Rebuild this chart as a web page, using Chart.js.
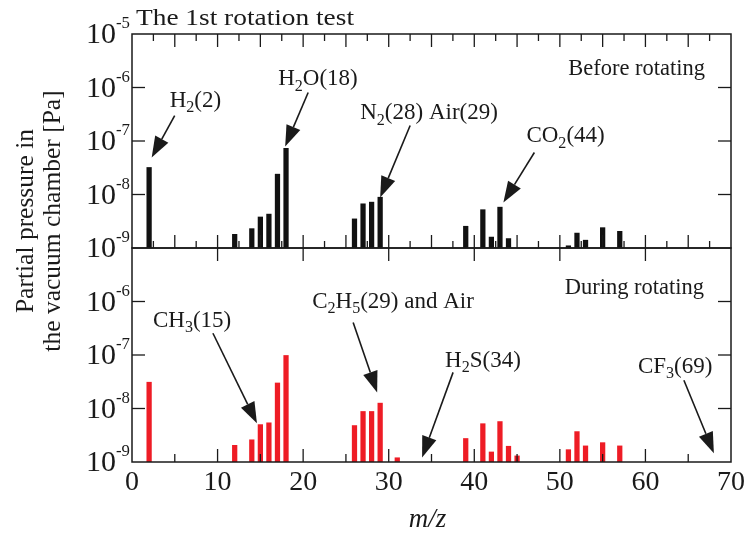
<!DOCTYPE html>
<html>
<head>
<meta charset="utf-8">
<script src="https://cdn.jsdelivr.net/npm/chart.js@4"></script>
<style>
  html, body { margin: 0; background: #fff; }
  canvas { display: block; }
</style>
</head>
<body>
<canvas id="chart" width="748" height="536"></canvas>
<script>
// m/z peaks and partial pressures [Pa]
const beforeMz = [2, 12, 14, 15, 16, 17, 18, 26, 27, 28, 29, 39, 41, 42, 43, 44, 51, 52, 53, 55, 57]
const beforePressure = [3.2e-8, 1.8e-9, 2.3e-9, 3.8e-9, 4.3e-9, 2.4e-8, 7.3e-8, 3.5e-9, 6.7e-9, 7.2e-9, 8.9e-9,
  2.55e-9, 5.2e-9, 1.6e-9, 5.8e-9, 1.5e-9, 1.1e-9, 1.9e-9, 1.4e-9, 2.4e-9, 2.05e-9]

const duringMz = [2, 12, 14, 15, 16, 17, 18, 26, 27, 28, 29, 31, 39, 41, 42, 43, 44, 45, 51, 52, 53, 55, 57]
const duringPressure = [3.1e-8, 2.05e-9, 2.6e-9, 5.0e-9, 5.4e-9, 3.0e-8, 9.8e-8, 4.8e-9, 8.8e-9, 8.8e-9, 1.26e-8, 1.2e-9,
  2.75e-9, 5.2e-9, 1.54e-9, 5.7e-9, 1.97e-9, 1.3e-9, 1.7e-9, 3.7e-9, 2.0e-9, 2.3e-9, 2.0e-9]

const xTickLabels = [0, 10, 20, 30, 40, 50, 60, 70]
const topExponents = [-5, -6, -7, -8, -9]
const bottomExponents = [-6, -7, -8, -9]

// labels with arrows: tip in data coords, tail / text as pixel offsets from the tip
const annotations = [
  { panel: "yTop", text: "H_2(2)", mz: 2.3, p: 4.9e-8, tail: [23, -42], label: [18, -51] },
  { panel: "yTop", text: "H_2O(18)", mz: 17.9, p: 7.9e-8, tail: [23, -54], label: [-7, -61] },
  { panel: "yTop", text: "N_2(28) Air(29)", mz: 29.0, p: 8.8e-9, tail: [30, -72], label: [-20, -78] },
  { panel: "yTop", text: "CO_2(44)", mz: 43.4, p: 7.1e-9, tail: [31, -50], label: [23, -60] },
  { panel: "yBot", text: "CH_3(15)", mz: 14.6, p: 5.3e-9, tail: [-44, -90], label: [-104, -96] },
  { panel: "yBot", text: "C_2H_5(29) and Air", mz: 28.65, p: 2.0e-8, tail: [-24, -70], label: [-65, -84] },
  { panel: "yBot", text: "H_2S(34)", mz: 33.9, p: 1.22e-9, tail: [31, -85], label: [23, -90] },
  { panel: "yBot", text: "CF_3(69)", mz: 68.0, p: 1.46e-9, tail: [-30, -73], label: [-76, -80] },
]

const FONT = '"Liberation Serif", "Times New Roman", serif'

// draws "H_2O" / "10^{-5}" style strings with sub- and superscripts
const richText = (ctx, str, x, y, size, align = "left", opts = {}) => {
  const parts = []
  const re = /([_^])(\{[^}]*\}|.)/g
  let last = 0, m
  while ((m = re.exec(str))) {
    if (m.index > last) parts.push({ t: str.slice(last, m.index), k: "" })
    parts.push({ t: m[2].replace(/[{}]/g, ""), k: m[1] })
    last = re.lastIndex
  }
  if (last < str.length) parts.push({ t: str.slice(last), k: "" })

  const fontOf = p => {
    const s = p.k === "^" ? size * 0.56 : p.k === "_" ? size * 0.7 : size
    return (opts.italic ? "italic " : "") + s + "px " + FONT
  }
  let w = 0
  parts.forEach(p => { ctx.font = fontOf(p); p.w = ctx.measureText(p.t).width; w += p.w })

  const sx = opts.width ? opts.width / w : 1
  ctx.save()
  ctx.translate(x, y)
  ctx.scale(sx, 1)
  ctx.textAlign = "left"
  ctx.textBaseline = "alphabetic"
  ctx.fillStyle = "#1a1a1a"
  let cx = align === "right" ? -w : align === "center" ? -w / 2 : 0
  parts.forEach(p => {
    ctx.font = fontOf(p)
    const dy = p.k === "_" ? size * 0.22 : p.k === "^" ? -size * 0.5 : 0
    ctx.fillText(p.t, cx, dy)
    cx += p.w
  })
  ctx.restore()
}

const line = (ctx, x1, y1, x2, y2) => {
  ctx.beginPath()
  ctx.moveTo(x1, y1)
  ctx.lineTo(x2, y2)
  ctx.stroke()
}

const arrow = (ctx, x1, y1, x2, y2) => {
  const ang = Math.atan2(y2 - y1, x2 - x1)
  const len = 21, half = 7.5
  const bx = x2 - len * Math.cos(ang), by = y2 - len * Math.sin(ang)
  line(ctx, x1, y1, bx, by)
  ctx.beginPath()
  ctx.moveTo(x2, y2)
  ctx.lineTo(bx + half * Math.sin(ang), by - half * Math.cos(ang))
  ctx.lineTo(bx - half * Math.sin(ang), by + half * Math.cos(ang))
  ctx.closePath()
  ctx.fill()
}

const framePlugin = {
  id: "frame",
  afterDatasetsDraw(chart) {
    const { ctx, chartArea: { left, right }, scales: { x, yTop, yBot } } = chart
    ctx.save()
    ctx.strokeStyle = "#1a1a1a"
    ctx.lineWidth = 1.5
    ctx.strokeRect(left, yTop.top, right - left, yTop.bottom - yTop.top)
    ctx.strokeRect(left, yBot.top, right - left, yBot.bottom - yBot.top)

    ctx.lineWidth = 1.3
    for (let v = 2.5; v < 70; v += 2.5) {
      const px = x.getPixelForValue(v)
      const big = v % 5 === 0
      line(ctx, px, yTop.top, px, yTop.top + (big ? 13 : 7))
      line(ctx, px, yTop.bottom, px, yTop.bottom - (big ? 13 : 7))
      if (v % 10 === 0) line(ctx, px, yBot.top, px, yBot.top + 13)
      if (big) line(ctx, px, yBot.bottom, px, yBot.bottom - (v % 10 === 0 ? 13 : 8))
    }
    ;[[yTop, topExponents], [yBot, bottomExponents]].forEach(([scale, exps]) => {
      exps.forEach(e => {
        const py = scale.getPixelForValue(Math.pow(10, e))
        if (py <= scale.top + 1 || py >= scale.bottom - 1) return
        line(ctx, left, py, left + 13, py)
        line(ctx, right, py, right - 13, py)
      })
    })
    ctx.restore()
  },
  afterDraw(chart) {
    const { ctx, chartArea: { left, right }, scales: { x, yTop, yBot } } = chart
    ctx.save()
    ctx.fillStyle = "#1a1a1a"
    ctx.strokeStyle = "#1a1a1a"

    // y tick labels
    topExponents.forEach(e => richText(ctx, "10^{" + e + "}", left - 2, yTop.getPixelForValue(Math.pow(10, e)) + 9, 30, "right"))
    bottomExponents.slice(0, -1).forEach(e => richText(ctx, "10^{" + e + "}", left - 2, yBot.getPixelForValue(Math.pow(10, e)) + 9, 30, "right"))
    richText(ctx, "10^{-9}", left - 2, yBot.bottom + 9, 30, "right")

    // x tick labels
    xTickLabels.forEach(v => richText(ctx, String(v), x.getPixelForValue(v), 490, 28, "center"))

    // axis titles
    richText(ctx, "m/z", (left + right) / 2 - 4, 527, 27, "center", { italic: true })
    ctx.save()
    ctx.translate(33, 221)
    ctx.rotate(-Math.PI / 2)
    richText(ctx, "Partial pressure in", 0, 0, 25.5, "center")
    richText(ctx, "the vacuum chamber [Pa]", 0, 27, 25.5, "center")
    ctx.restore()

    // panel captions
    richText(ctx, "The 1st rotation test", 136, 25, 23, "left", { width: 218 })
    richText(ctx, "Before rotating", 705, 75, 22.5, "right")
    richText(ctx, "During rotating", 704, 294, 22.5, "right")

    // arrows with species labels
    ctx.lineWidth = 1.6
    annotations.forEach(a => {
      const scale = a.panel === "yTop" ? yTop : yBot
      const tx = x.getPixelForValue(a.mz), ty = scale.getPixelForValue(a.p)
      arrow(ctx, tx + a.tail[0], ty + a.tail[1], tx, ty)
      richText(ctx, a.text, tx + a.label[0], ty + a.label[1], 23, "left")
    })
    ctx.restore()
  },
}

new Chart(document.getElementById("chart"), {
  type: "bar",
  data: {
    datasets: [
      {
        label: "Before rotating",
        data: beforeMz.map((m, i) => ({ x: m, y: beforePressure[i] })),
        yAxisID: "yTop",
        backgroundColor: "#111",
      },
      {
        label: "During rotating",
        data: duringMz.map((m, i) => ({ x: m, y: duringPressure[i] })),
        yAxisID: "yBot",
        backgroundColor: "#ee1c25",
      },
    ],
  },
  options: {
    responsive: false,
    animation: false,
    grouped: false,
    barThickness: 4.6,
    layout: { padding: { left: 132, right: 17, top: 34, bottom: 74 } },
    scales: {
      x: { type: "linear", min: 0, max: 70, offset: false, display: false },
      yTop: { type: "logarithmic", min: 1e-9, max: 1e-5, display: false, stack: "panels", stackWeight: 1, weight: 2 },
      yBot: { type: "logarithmic", min: 1e-9, max: 1e-5, display: false, stack: "panels", stackWeight: 1, weight: 1 },
    },
    plugins: {
      legend: { display: false },
      tooltip: { enabled: false },
    },
  },
  plugins: [framePlugin],
})
</script>
</body>
</html>
